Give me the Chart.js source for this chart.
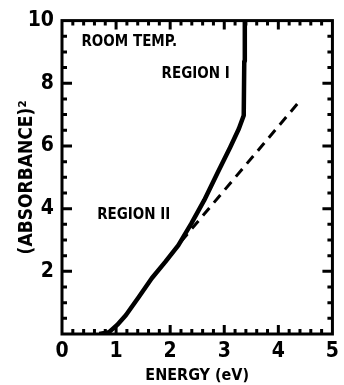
<!DOCTYPE html>
<html>
<head>
<meta charset="utf-8">
<script src="https://cdn.jsdelivr.net/npm/chart.js@4.4.1/dist/chart.umd.min.js"></script>
<style>
  html, body { margin: 0; padding: 0; background: #fff; }
  #wrap { width: 344px; height: 385px; }
</style>
</head>
<body>
<div id="wrap"><canvas id="chart" width="344" height="385"></canvas></div>
<script>
// Data
const energy = [0.69, 0.87, 1.02, 1.18, 1.42, 1.66, 1.91, 2.15, 2.39, 2.63, 2.87, 3.11, 3.27, 3.36, 3.37, 3.38];
const absorbanceSq = [0.0, 0.06, 0.29, 0.6, 1.18, 1.78, 2.3, 2.83, 3.52, 4.27, 5.12, 5.96, 6.55, 6.97, 8.7, 10.0];

// Linear extrapolation (dashed)
const fitEnergy = [2.2, 4.38];
const fitAbsorbanceSq = [2.95, 7.4];

const xTicks = [0, 1, 2, 3, 4, 5];
const yTicks = [2, 4, 6, 8, 10];

const labels = [
    { text: 'ROOM TEMP.', x: 0.36, y: 9.3 },
    { text: 'REGION I', x: 1.84, y: 8.3 },
    { text: 'REGION II', x: 0.65, y: 3.8 }
];

const FONT = "'DejaVu Sans Condensed', 'Liberation Sans Narrow', Arial, sans-serif";

// Frame, inward ticks and annotation text
const framePlugin = {
    id: 'frame',
    afterDatasetsDraw(chart) {
        const { ctx, chartArea: a, scales: { x, y } } = chart;
        ctx.save();
        ctx.strokeStyle = '#000';
        ctx.lineWidth = 3;
        ctx.strokeRect(a.left, a.top, a.right - a.left, a.bottom - a.top);

        // x ticks every 0.2, long at integers
        for (let i = 1; i < 25; i++) {
            const px = x.getPixelForValue(i * 0.2);
            const len = (i % 5 === 0) ? 9 : 5;
            ctx.beginPath();
            ctx.moveTo(px, a.bottom); ctx.lineTo(px, a.bottom - len);
            ctx.moveTo(px, a.top); ctx.lineTo(px, a.top + len);
            ctx.stroke();
        }
        // y ticks every 0.5, long every 2
        for (let i = 1; i < 20; i++) {
            const py = y.getPixelForValue(i * 0.5);
            const len = (i % 4 === 0) ? 10 : 5;
            ctx.beginPath();
            ctx.moveTo(a.left, py); ctx.lineTo(a.left + len, py);
            ctx.moveTo(a.right, py); ctx.lineTo(a.right - len, py);
            ctx.stroke();
        }

        ctx.fillStyle = '#000';
        ctx.font = 'bold 15px ' + FONT;
        ctx.textAlign = 'left';
        ctx.textBaseline = 'middle';
        labels.forEach(l => {
            ctx.fillText(l.text, x.getPixelForValue(l.x), y.getPixelForValue(l.y));
        });
        ctx.restore();
    }
};

new Chart(document.getElementById('chart'), {
    type: 'scatter',
    data: {
        datasets: [
            {
                data: energy.map((e, i) => ({ x: e, y: absorbanceSq[i] })),
                showLine: true,
                borderColor: '#000',
                borderWidth: 4.5,
                borderJoinStyle: 'round',
                pointRadius: 0,
                tension: 0
            },
            {
                data: fitEnergy.map((e, i) => ({ x: e, y: fitAbsorbanceSq[i] })),
                showLine: true,
                borderColor: '#000',
                borderWidth: 3,
                borderDash: [10, 7],
                pointRadius: 0
            }
        ]
    },
    options: {
        responsive: false,
        animation: false,
        layout: { padding: { top: 19, right: 9, left: 0, bottom: 0 } },
        plugins: { legend: { display: false }, tooltip: { enabled: false } },
        scales: {
            x: {
                type: 'linear',
                min: 0, max: 5,
                afterBuildTicks: s => { s.ticks = xTicks.map(v => ({ value: v })); },
                grid: { display: false, drawTicks: false },
                border: { display: false },
                ticks: {
                    color: '#000',
                    padding: 5,
                    maxRotation: 0,
                    font: { family: FONT, size: 21, weight: 'bold' }
                },
                title: {
                    display: true,
                    text: 'ENERGY (eV)',
                    color: '#000',
                    padding: { top: -6, bottom: 0 },
                    font: { family: FONT, size: 16, weight: 'bold' }
                },
                afterFit: s => { s.height = 51; }
            },
            y: {
                type: 'linear',
                min: 0, max: 10,
                afterBuildTicks: s => { s.ticks = yTicks.map(v => ({ value: v })); },
                grid: { display: false, drawTicks: false },
                border: { display: false },
                ticks: {
                    color: '#000',
                    padding: 8,
                    font: { family: FONT, size: 21, weight: 'bold' }
                },
                title: {
                    display: true,
                    text: '(ABSORBANCE)²',
                    color: '#000',
                    padding: { top: 16, bottom: 0 },
                    font: { family: FONT, size: 19, weight: 'bold' }
                },
                afterFit: s => { s.width = 62; }
            }
        }
    },
    plugins: [framePlugin]
});
</script>
</body>
</html>
